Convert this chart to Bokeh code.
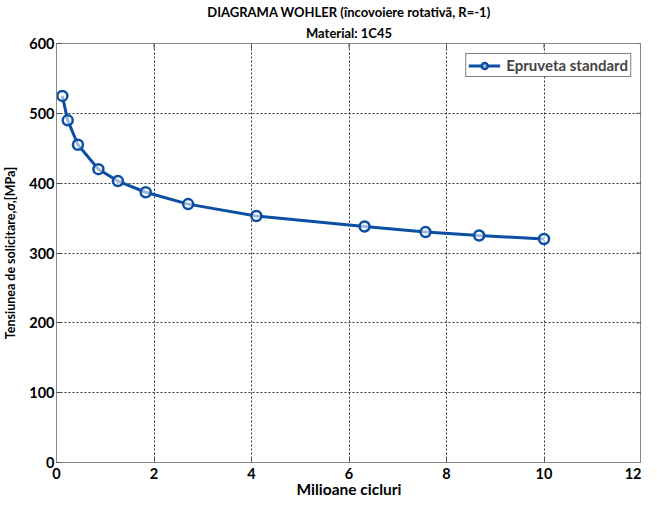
import math
from bokeh.plotting import figure
from bokeh.embed import file_html
from bokeh.resources import INLINE
from bokeh.models import ColumnDataSource, FixedTicker, Legend, LegendItem, Range1d, Title

cycles_millions = [0.12, 0.23, 0.44, 0.86, 1.26, 1.83, 2.7, 4.1, 6.32, 7.57, 8.67, 10.0]
stress_mpa = [525, 490, 455, 420, 403, 387, 370, 353, 338, 330, 325, 320]
x_ticks = [0, 2, 4, 6, 8, 10, 12]
y_ticks = [0, 100, 200, 300, 400, 500, 600]
series_name = "Epruveta standard"
title_line1 = "DIAGRAMA WOHLER (încovoiere rotativã, R=-1)"
title_line2 = "Material: 1C45"

FONT = "Lato"
BLUE = "#0b4ea2"
X_MAX = x_ticks[-1]
Y_MAX = y_ticks[-1]

src = ColumnDataSource(dict(x=cycles_millions, y=stress_mpa))

p = figure(width=641, height=500, output_backend="svg", toolbar_location=None,
           x_range=Range1d(x_ticks[0], X_MAX), y_range=Range1d(y_ticks[0], Y_MAX),
           min_border_left=4, min_border_right=0, min_border_top=0, min_border_bottom=0)

xa = p.below[0]
ya = p.left[0]

for txt, so in ((title_line2, 5), (title_line1, 2)):
    t = Title(text=txt, align="center", text_font=FONT, text_font_size="13px",
              text_font_style="bold", text_color="black", standoff=so)
    p.add_layout(t, "above")
p.title.visible = False

p.xgrid.ticker = FixedTicker(ticks=x_ticks)
p.ygrid.ticker = FixedTicker(ticks=y_ticks)
for g in (p.xgrid[0], p.ygrid[0]):
    g.grid_line_color = "black"
    g.grid_line_dash = "2 2"
    g.grid_line_width = 1
    g.grid_line_alpha = 0.8

# box ticks on the top and right edges (inward, half of the dash is clipped)
p.scatter(x_ticks, [Y_MAX] * len(x_ticks), marker="dash", size=10, angle=math.pi / 2,
          line_color="#555555", line_width=1)
p.scatter([X_MAX] * len(y_ticks), y_ticks, marker="dash", size=10,
          line_color="#555555", line_width=1)

line = p.line("x", "y", source=src, line_color=BLUE, line_width=3)
pts = p.scatter("x", "y", source=src, marker="circle", size=10, line_color=BLUE,
                line_width=2.5, fill_color="white", fill_alpha=0.6)

for ax, ticks in ((xa, x_ticks), (ya, y_ticks)):
    ax.ticker = FixedTicker(ticks=ticks)
    ax.major_tick_in = 5
    ax.major_tick_out = 0
    ax.minor_tick_in = 0
    ax.minor_tick_out = 0
    ax.axis_line_color = "#888888"
    ax.major_tick_line_color = "#555555"
    ax.major_label_text_font = FONT
    ax.major_label_text_font_size = "14.5px"
    ax.major_label_text_font_style = "bold"
    ax.major_label_text_color = "black"
    ax.axis_label_text_font = FONT
    ax.axis_label_text_font_style = "bold"
    ax.axis_label_text_color = "black"

xa.axis_label = "Milioane cicluri"
xa.axis_label_text_font_size = "15.5px"
ya.axis_label = "Tensiunea de solicitare,σ,[MPa]"
ya.axis_label_text_font_size = "12.5px"
xa.major_label_standoff = 5
xa.axis_label_standoff = -2
ya.major_label_standoff = 2
ya.axis_label_standoff = 8

p.outline_line_color = "#888888"

legend = Legend(items=[LegendItem(label=series_name, renderers=[line, pts])],
                location="top_right")
legend.label_text_font = FONT
legend.label_text_font_size = "15px"
legend.label_text_font_style = "bold"
legend.border_line_color = "black"
legend.border_line_width = 1
legend.background_fill_alpha = 1
legend.margin = 10
legend.padding = 2
legend.glyph_width = 32
legend.glyph_height = 15
legend.label_height = 15
legend.label_standoff = 6
p.add_layout(legend)

open("out.html", "w").write(file_html(p, INLINE))
